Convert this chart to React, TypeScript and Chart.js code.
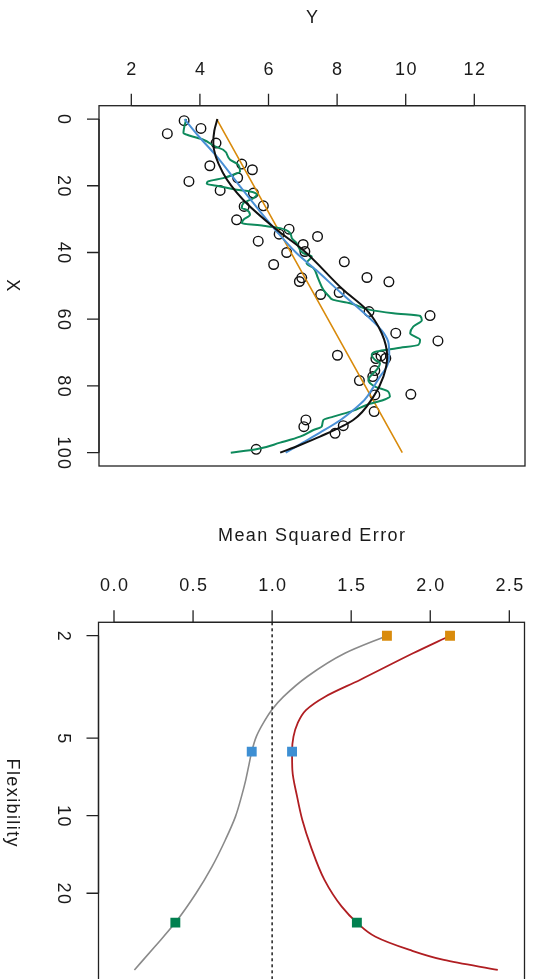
import React, { useEffect, useRef } from "react";
import { Chart, registerables } from "chart.js";

Chart.register(...registerables);

const FONT = "'Liberation Sans', Arial, Helvetica, sans-serif";
const FONT_SIZE = 18;

// ---------- Top panel: observations (X = index on vertical axis, Y = response on top axis)
const obsX = [0.5, 4.4, 2.8, 7.2, 13.5, 15.2, 14.0, 18.7, 17.6, 21.4, 22.2, 26.0, 26.2, 30.2, 33.0, 34.5, 36.6, 37.6, 35.2, 39.7, 40.0, 43.6, 42.8, 47.5, 48.8, 48.7, 47.6, 52.6, 52.0, 57.7, 58.9, 64.2, 66.5, 70.8, 71.8, 71.7, 71.0, 75.4, 77.2, 78.4, 82.7, 82.5, 87.7, 90.2, 92.2, 91.9, 94.2, 99.0];
const obsY = [3.54, 3.05, 4.03, 4.47, 5.22, 5.53, 4.29, 3.68, 5.10, 4.59, 5.56, 5.85, 5.29, 5.07, 6.60, 6.31, 5.70, 7.01, 7.43, 7.06, 6.53, 6.15, 8.21, 8.87, 9.51, 6.90, 6.97, 7.52, 8.06, 8.93, 10.71, 9.71, 10.94, 8.01, 9.13, 9.42, 9.28, 9.10, 9.04, 8.65, 9.10, 10.15, 9.08, 7.09, 7.03, 8.18, 7.94, 5.64];

// linear fit (orange)
const linX = [0, 100];
const linY = [4.49, 9.9];

// smooth fit (black)
const smoothX = [0, 3.5, 7.2, 16.1, 24.2, 33.2, 39.2, 51.2, 57.2, 64.2, 71.2, 77.2, 83.2, 90.2, 95.2, 97.7, 100];
const smoothY = [4.51, 4.42, 4.39, 4.67, 5.26, 6.24, 7.0, 8.18, 8.86, 9.3, 9.46, 9.35, 9.06, 8.47, 7.5, 6.92, 6.34];

// moderate spline (blue)
const splineX = [0, 5, 11.2, 20.2, 27, 33.7, 40, 45.2, 52, 60.2, 64, 67.2, 71, 74.2, 77.2, 80.5, 84.2, 87, 90.2, 94, 97, 100];
const splineY = [3.55, 3.95, 4.49, 5.17, 5.7, 6.24, 6.8, 7.38, 8.1, 9.0, 9.35, 9.5, 9.52, 9.45, 9.25, 9.05, 8.8, 8.5, 8.1, 7.5, 7.0, 6.5];

// wiggly spline (green)
const wiggleX = [0, 4.2, 5.0, 6.2, 8.2, 9.2, 12.2, 13.7, 15.7, 16.7, 17.7, 18.7, 19.4, 20.2, 21.2, 21.7, 22.7, 23.7, 25.2, 26.7, 27.2, 28.7, 30.2, 31.2, 32.0, 32.7, 34.2, 35.7, 37.2, 40.2, 41.2, 43.2, 44.7, 47.6, 51.2, 53.2, 54.2, 55.2, 57.2, 58.2, 59.0, 60.3, 62.2, 64.2, 66.2, 67.7, 68.7, 69.7, 70.7, 72.2, 73.2, 75.2, 77.2, 78.2, 80.2, 81.7, 83.2, 84.2, 85.7, 87.4, 89.2, 90.2, 92.2, 93.2, 95.2, 97.0, 99.0, 100];
const wiggleY = [3.6, 3.52, 3.71, 4.1, 4.44, 4.68, 4.88, 5.12, 5.17, 4.97, 4.68, 4.24, 4.2, 4.59, 5.07, 5.46, 5.66, 5.56, 5.27, 5.22, 5.36, 5.46, 5.27, 5.22, 5.85, 6.34, 6.63, 6.68, 6.82, 7.01, 7.26, 7.11, 7.31, 7.44, 7.6, 7.77, 7.89, 8.38, 8.96, 9.64, 10.42, 10.47, 10.22, 10.13, 10.42, 10.37, 9.74, 9.15, 9.01, 9.11, 9.25, 9.15, 8.96, 8.91, 9.11, 9.49, 9.54, 9.35, 8.86, 8.47, 7.89, 7.6, 7.55, 7.31, 6.92, 6.34, 5.64, 4.9];

const yTicks = [2, 4, 6, 8, 10, 12];
const yTickLabels = ["2", "4", "6", "8", "10", "12"];
const xTicks = [0, 20, 40, 60, 80, 100];
const xTickLabels = ["0", "20", "40", "60", "80", "100"];

// ---------- Bottom panel: MSE vs flexibility
const trainFlex = [2, 2.34, 2.88, 3.45, 3.86, 4.38, 4.93, 5.64, 6.45, 7.27, 8.43, 10.08, 12.42, 15.76, 20, 26, 32.2, 39.7];
const trainMSE = [1.726, 1.46, 1.223, 1.072, 1.001, 0.943, 0.9, 0.871, 0.851, 0.833, 0.806, 0.768, 0.704, 0.62, 0.519, 0.388, 0.259, 0.129];
const testFlex = [2, 2.34, 2.97, 3.45, 3.89, 4.38, 4.93, 5.64, 6.64, 8.43, 10.39, 13.18, 17.75, 22.5, 26, 29.5, 33.2, 36.3, 39.7];
const testMSE = [2.125, 1.891, 1.555, 1.335, 1.214, 1.161, 1.135, 1.126, 1.128, 1.158, 1.191, 1.245, 1.331, 1.439, 1.536, 1.654, 1.87, 2.086, 2.427];
const markFlex = [2, 5.64, 26];
const markTrain = [1.726, 0.871, 0.388];
const markTest = [2.125, 1.126, 1.536];
const markColors = ["#D98B0C", "#3E8FD3", "#00804F"];
const irreducibleError = 1.0;

const mseTicks = [0, 0.5, 1, 1.5, 2, 2.5];
const mseTickLabels = ["0.0", "0.5", "1.0", "1.5", "2.0", "2.5"];
const flexTicks = [2, 5, 10, 20];
const flexTickLabels = ["2", "5", "10", "20"];

const zip = (xs: number[], ys: number[]) => xs.map((x, i) => ({ x, y: ys[i] }));

const rAxesPlugin = {
  id: "rAxes",
  afterDraw(chart: any, _args: any, opts: any) {
    const { ctx, chartArea: a, scales } = chart;
    const xs = scales.x;
    const ys = scales.y;
    ctx.save();
    ctx.strokeStyle = "#222";
    ctx.lineWidth = 1.3;
    ctx.strokeRect(a.left, a.top, a.right - a.left, a.bottom - a.top);
    const tx = opts.topTicks.map((v: number) => xs.getPixelForValue(v));
    ctx.beginPath();
    ctx.moveTo(tx[0], a.top);
    ctx.lineTo(tx[tx.length - 1], a.top);
    tx.forEach((p: number) => {
      ctx.moveTo(p, a.top);
      ctx.lineTo(p, a.top - opts.tick);
    });
    ctx.stroke();
    const ly = opts.leftTicks.map((v: number) => ys.getPixelForValue(v));
    ctx.beginPath();
    ctx.moveTo(a.left, ly[0]);
    ctx.lineTo(a.left, ly[ly.length - 1]);
    ly.forEach((p: number) => {
      ctx.moveTo(a.left, p);
      ctx.lineTo(a.left - opts.tick, p);
    });
    ctx.stroke();

    ctx.fillStyle = "#1a1a1a";
    ctx.font = `${FONT_SIZE}px ${FONT}`;
    try {
      (ctx as any).letterSpacing = "1.4px";
    } catch (e) {}
    ctx.textAlign = "center";
    ctx.textBaseline = "middle";
    tx.forEach((p: number, i: number) => ctx.fillText(opts.topLabels[i], p + 0.7, opts.topLabelY));
    ctx.fillText(opts.topTitle, (a.left + a.right) / 2 + 0.7, opts.topTitleY);
    ly.forEach((p: number, i: number) => {
      ctx.save();
      ctx.translate(opts.leftLabelX, p + 0.7);
      ctx.rotate(Math.PI / 2);
      ctx.fillText(opts.leftLabels[i], 0, 0);
      ctx.restore();
    });
    ctx.save();
    ctx.translate(opts.leftTitleX, (a.top + a.bottom) / 2);
    ctx.rotate(Math.PI / 2);
    ctx.fillText(opts.leftTitle, 0, 0);
    ctx.restore();
    ctx.restore();
  },
};

function TopPanel() {
  const ref = useRef<HTMLCanvasElement>(null);
  useEffect(() => {
    if (!ref.current) return;
    const lineDs = (xs: number[], ys: number[], color: string, width: number) => ({
      data: zip(ys, xs),
      showLine: true,
      borderColor: color,
      borderWidth: width,
      pointRadius: 0,
      cubicInterpolationMode: "monotone",
      fill: false,
    });
    const chart = new Chart(ref.current, {
      type: "scatter",
      data: {
        datasets: [
          lineDs(smoothX, smoothY, "#111111", 2),
          lineDs(splineX, splineY, "#4A90D6", 2),
          lineDs(wiggleX, wiggleY, "#0E8A5C", 2),
          lineDs(linX, linY, "#D98B0C", 1.6),
          {
            data: zip(obsY, obsX),
            showLine: false,
            pointRadius: 4.8,
            pointBorderWidth: 1.4,
            pointBackgroundColor: "rgba(0,0,0,0)",
            pointBorderColor: "#111111",
          },
        ] as any,
      },
      options: {
        animation: false,
        responsive: false,
        devicePixelRatio: 1,
        indexAxis: "y",
        layout: { padding: { left: 99, top: 105.7, right: 11, bottom: 34 } },
        scales: {
          x: { type: "linear", display: false, min: 1.058, max: 13.478 },
          y: { type: "linear", display: false, reverse: true, min: -4, max: 104 },
        },
        plugins: {
          legend: { display: false },
          tooltip: { enabled: false },
          rAxes: {
            topTicks: yTicks,
            topLabels: yTickLabels,
            leftTicks: xTicks,
            leftLabels: xTickLabels,
            topTitle: "Y",
            leftTitle: "X",
            tick: 12,
            topLabelY: 70,
            topTitleY: 18,
            leftLabelX: 63,
            leftTitleX: 12,
          },
        } as any,
      } as any,
      plugins: [rAxesPlugin],
    });
    return () => chart.destroy();
  }, []);
  return <canvas ref={ref} width={536} height={500} style={{ display: "block" }} />;
}

function BottomPanel() {
  const ref = useRef<HTMLCanvasElement>(null);
  useEffect(() => {
    if (!ref.current) return;
    const yMin = 1.774;
    const yMax = 45.1;
    const chart = new Chart(ref.current, {
      type: "scatter",
      data: {
        datasets: [
          {
            data: zip(markTrain, markFlex),
            showLine: false,
            pointStyle: "rect",
            pointRadius: 7,
            pointBorderWidth: 0,
            pointBackgroundColor: markColors,
            pointBorderColor: markColors,
          },
          {
            data: zip(markTest, markFlex),
            showLine: false,
            pointStyle: "rect",
            pointRadius: 7,
            pointBorderWidth: 0,
            pointBackgroundColor: markColors,
            pointBorderColor: markColors,
          },
          {
            data: [
              { x: irreducibleError, y: yMin },
              { x: irreducibleError, y: yMax },
            ],
            showLine: true,
            borderColor: "#111111",
            borderWidth: 1.4,
            borderDash: [3, 3],
            pointRadius: 0,
          },
          {
            data: zip(trainMSE, trainFlex),
            showLine: true,
            borderColor: "#8A8A8A",
            borderWidth: 1.6,
            pointRadius: 0,
            cubicInterpolationMode: "monotone",
          },
          {
            data: zip(testMSE, testFlex),
            showLine: true,
            borderColor: "#B01E22",
            borderWidth: 1.8,
            pointRadius: 0,
            cubicInterpolationMode: "monotone",
          },
        ] as any,
      },
      options: {
        animation: false,
        responsive: false,
        devicePixelRatio: 1,
        indexAxis: "y",
        layout: { padding: { left: 98.5, top: 122.3, right: 11.5, bottom: 55.8 } },
        scales: {
          x: { type: "linear", display: false, min: -0.098, max: 2.596 },
          y: { type: "logarithmic", display: false, reverse: true, min: yMin, max: yMax },
        },
        plugins: {
          legend: { display: false },
          tooltip: { enabled: false },
          rAxes: {
            topTicks: mseTicks,
            topLabels: mseTickLabels,
            leftTicks: flexTicks,
            leftLabels: flexTickLabels,
            topTitle: "Mean Squared Error",
            leftTitle: "Flexibility",
            tick: 12,
            topLabelY: 86,
            topTitleY: 36,
            leftLabelX: 63,
            leftTitleX: 12,
          },
        } as any,
      } as any,
      plugins: [rAxesPlugin],
    });
    return () => chart.destroy();
  }, []);
  return <canvas ref={ref} width={536} height={540} style={{ display: "block" }} />;
}

export default function App() {
  return (
    <div style={{ position: "absolute", left: 0, top: 0, width: 536, background: "#fff" }}>
      <TopPanel />
      <BottomPanel />
    </div>
  );
}
